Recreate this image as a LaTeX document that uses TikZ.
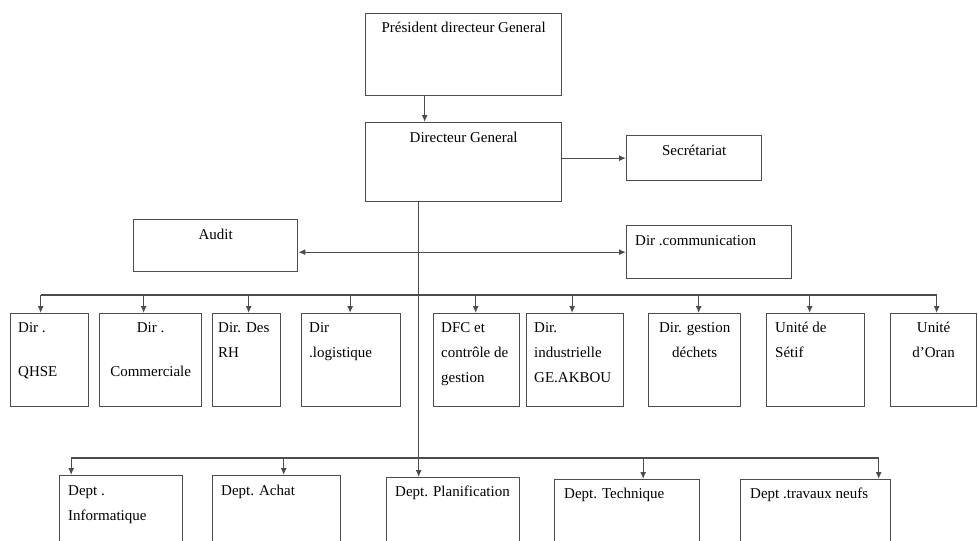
\documentclass[tikz,border=0pt]{standalone}
\usepackage{fontspec}
\setmainfont{Liberation Serif}
\usetikzlibrary{positioning,arrows.meta}

\tikzset{
  unit/.style={draw=black!70, line width=1.3pt, inner sep=0pt, anchor=north west},
  txt/.style={inner sep=0pt, font=\fontsize{15}{25}\selectfont, align=left},
  ctxt/.style={txt, align=center},
  link/.style={draw=black!70, line width=1.2pt},
  arr/.style={link, -{Latex[length=7pt,width=6pt]}},
}

\begin{document}
\begin{tikzpicture}[x=1pt,y=-1pt]
\useasboundingbox (0,0) rectangle (978,541);

% direction generale
\node[unit, minimum width=196, minimum height=82] (pdg) at (365,13) {};
\node[ctxt, below=9pt of pdg.north] (pdgt) {Président directeur General};
\node[unit, minimum width=196, minimum height=79] (dg) at (365,122) {};
\node[ctxt, below=10pt of dg.north] (dgt) {Directeur General};
\node[unit, minimum width=135, minimum height=45] (secr) at (626,135) {};
\node[ctxt, below=10pt of secr.north] (secrt) {Secrétariat};
\node[unit, minimum width=164, minimum height=52] (audit) at (133,219) {};
\node[ctxt, below=10pt of audit.north] (auditt) {Audit};
\node[unit, minimum width=165, minimum height=53] (comm) at (626,225) {};
\node[txt, below right=10pt and 9pt of comm.north west] (commt) {Dir .communication};

% directions
\node[unit, minimum width=78, minimum height=93] (qhse) at (10,313) {};
\node[txt, below right=9pt and 8pt of qhse.north west] (qhset) {Dir .\\[19pt]QHSE};
\node[unit, minimum width=102, minimum height=93] (comc) at (99,313) {};
\node[ctxt, below=9pt of comc.north] (comct) {Dir .\\[19pt]Commerciale};
\node[unit, minimum width=68, minimum height=93] (rh) at (212,313) {};
\node[txt, below right=9pt and 6pt of rh.north west] (rht) {Dir. Des\\RH};
\node[unit, minimum width=99, minimum height=93] (logi) at (301,313) {};
\node[txt, below right=9pt and 8pt of logi.north west] (logit) {Dir\\.logistique};
\node[unit, minimum width=86, minimum height=93] (dfc) at (433,313) {};
\node[txt, below right=9pt and 8pt of dfc.north west] (dfct) {DFC et\\contrôle de\\gestion};
\node[unit, minimum width=97, minimum height=93] (indu) at (526,313) {};
\node[txt, below right=9pt and 8pt of indu.north west] (indut) {Dir.\\industrielle\\GE.AKBOU};
\node[unit, minimum width=92, minimum height=93] (dech) at (648,313) {};
\node[ctxt, below=9pt of dech.north] (decht) {Dir. gestion\\déchets};
\node[unit, minimum width=98, minimum height=93] (setif) at (766,313) {};
\node[txt, below right=9pt and 9pt of setif.north west] (setift) {Unité de\\Sétif};
\node[unit, minimum width=86, minimum height=93] (oran) at (890,313) {};
\node[ctxt, below=9pt of oran.north] (orant) {Unité\\d'Oran};

% departements
\node[unit, minimum width=123, minimum height=67] (info) at (59,475) {};
\node[txt, below right=10pt and 9pt of info.north west] (infot) {Dept .\\Informatique};
\node[unit, minimum width=128, minimum height=67] (achat) at (212,475) {};
\node[txt, below right=10pt and 9pt of achat.north west] (achatt) {Dept. Achat};
\node[unit, minimum width=133, minimum height=65] (plan) at (386,477) {};
\node[txt, below right=9pt and 9pt of plan.north west] (plant) {Dept. Planification};
\node[unit, minimum width=145, minimum height=63] (tech) at (554,479) {};
\node[txt, below right=9pt and 10pt of tech.north west] (techt) {Dept. Technique};
\node[unit, minimum width=150, minimum height=63] (trav) at (740,479) {};
\node[txt, below right=9pt and 10pt of trav.north west] (travt) {Dept .travaux neufs};

% liaisons
\draw[arr] ([xshift=-39pt]pdg.south) -- ([xshift=-39pt]dg.north);
\draw[arr] (dg.east |- secr.west) -- (secr.west);
\coordinate (trunk) at ([xshift=-45pt]dg.south);
\draw[arr] (trunk) -- (trunk |- plan.north);
\draw[link, {Latex[length=7pt,width=6pt]}-{Latex[length=7pt,width=6pt]}] (audit.east |- comm.west) -- (comm.west);

\coordinate (dbus) at (418,295);
\draw[link] ([xshift=-9pt]qhse.north |- dbus) -- ([xshift=3pt]oran.north |- dbus);
\foreach \n/\dx in {qhse/-9,comc/-7,rh/2,logi/-1,dfc/-1,indu/-3,dech/4,setif/-6,oran/3}
  \draw[arr] ([xshift=\dx pt]\n.north |- dbus) -- ([xshift=\dx pt]\n.north);

\coordinate (pbus) at (418,458);
\draw[link] ([xshift=-50pt]info.north |- pbus) -- ([xshift=63pt]trav.north |- pbus);
\foreach \n/\dx in {info/-50,achat/7,tech/16,trav/63}
  \draw[arr] ([xshift=\dx pt]\n.north |- pbus) -- ([xshift=\dx pt]\n.north);
\end{tikzpicture}
\end{document}
